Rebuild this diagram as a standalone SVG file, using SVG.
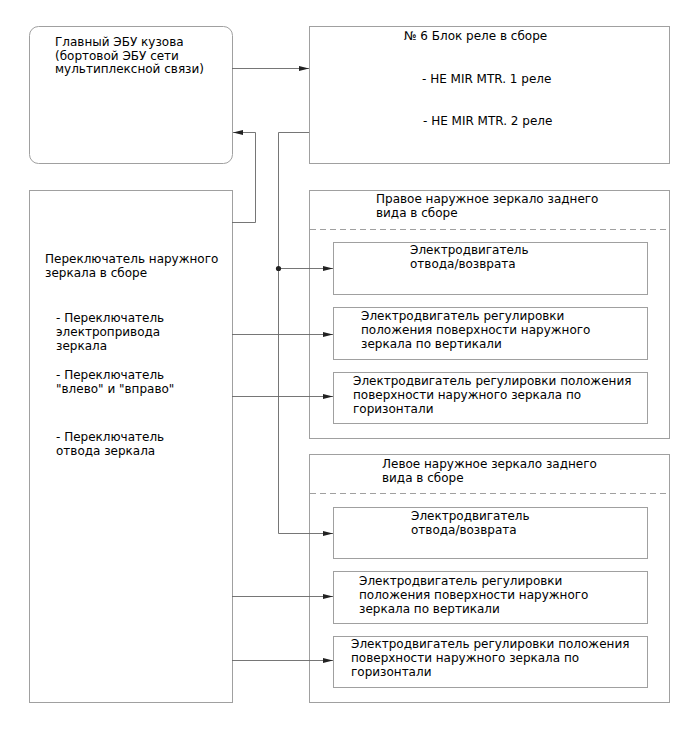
<svg xmlns="http://www.w3.org/2000/svg" width="688" height="755" viewBox="0 0 688 755">
<style>
.box{fill:#fff;stroke:#a0a0a0;stroke-width:1}
.dash{stroke:#a0a0a0;stroke-width:1;stroke-dasharray:6,4;fill:none}
.t{font-family:"DejaVu Sans",sans-serif;font-size:12px;fill:#000}
.c{fill:none;stroke:#666;stroke-width:0.9}
</style>
<defs>
<marker id="ar" viewBox="0 0 10 6" refX="10" refY="3" markerWidth="10" markerHeight="6" markerUnits="userSpaceOnUse" orient="auto">
<path d="M0,0.5 L10,3 L0,5.5 z" fill="#222"/>
</marker>
</defs>
<rect width="688" height="755" fill="#fff"/>
<g id="ecu">
<rect class="box" x="29.5" y="26.5" width="203" height="137" rx="9"/>
<text class="t" x="55" y="46">Главный ЭБУ кузова</text>
<text class="t" x="55" y="59.5">(бортовой ЭБУ сети</text>
<text class="t" x="55" y="73">мультиплексной связи)</text>
</g>
<g id="relay">
<rect class="box" x="309.5" y="26.5" width="360" height="137"/>
<text class="t" x="404" y="40">№ 6 Блок реле в сборе</text>
<text class="t" x="422" y="83">- HE MIR MTR. 1 реле</text>
<text class="t" x="423" y="125">- HE MIR MTR. 2 реле</text>
</g>
<g id="switch">
<rect class="box" x="29.5" y="190.5" width="203" height="512"/>
<text class="t" x="45" y="263">Переключатель наружного</text>
<text class="t" x="45" y="277">зеркала в сборе</text>
<text class="t" x="56" y="322">- Переключатель</text>
<text class="t" x="56" y="336">электропривода</text>
<text class="t" x="56" y="350">зеркала</text>
<text class="t" x="56" y="379">- Переключатель</text>
<text class="t" x="56" y="393">"влево" и "вправо"</text>
<text class="t" x="56" y="441">- Переключатель</text>
<text class="t" x="56" y="455">отвода зеркала</text>
</g>
<g id="right-mirror">
<rect class="box" x="309.5" y="190.5" width="360" height="248"/>
<line class="dash" x1="310" y1="229.5" x2="669" y2="229.5"/>
<text class="t" x="376" y="203">Правое наружное зеркало заднего</text>
<text class="t" x="376" y="217">вида в сборе</text>
</g>
<g id="r-retract">
<rect class="box" x="333.5" y="242.5" width="314" height="52"/>
<text class="t" x="410" y="254">Электродвигатель</text>
<text class="t" x="410" y="268">отвода/возврата</text>
</g>
<g id="r-vert">
<rect class="box" x="333.5" y="307.5" width="314" height="52"/>
<text class="t" x="361" y="320">Электродвигатель регулировки</text>
<text class="t" x="361" y="334">положения поверхности наружного</text>
<text class="t" x="361" y="348">зеркала по вертикали</text>
</g>
<g id="r-horiz">
<rect class="box" x="333.5" y="372.5" width="314" height="51"/>
<text class="t" x="353" y="385">Электродвигатель регулировки положения</text>
<text class="t" x="353" y="399">поверхности наружного зеркала по</text>
<text class="t" x="353" y="413">горизонтали</text>
</g>
<g id="left-mirror">
<rect class="box" x="309.5" y="454.5" width="360" height="248"/>
<line class="dash" x1="310" y1="493.5" x2="669" y2="493.5"/>
<text class="t" x="382" y="468">Левое наружное зеркало заднего</text>
<text class="t" x="382" y="482">вида в сборе</text>
</g>
<g id="l-retract">
<rect class="box" x="333.5" y="507.5" width="314" height="51"/>
<text class="t" x="411" y="520">Электродвигатель</text>
<text class="t" x="411" y="534">отвода/возврата</text>
</g>
<g id="l-vert">
<rect class="box" x="333.5" y="571.5" width="314" height="52"/>
<text class="t" x="359" y="585">Электродвигатель регулировки</text>
<text class="t" x="359" y="599">положения поверхности наружного</text>
<text class="t" x="359" y="613">зеркала по вертикали</text>
</g>
<g id="l-horiz">
<rect class="box" x="333.5" y="636.5" width="314" height="51"/>
<text class="t" x="351" y="648">Электродвигатель регулировки положения</text>
<text class="t" x="351" y="662">поверхности наружного зеркала по</text>
<text class="t" x="351" y="676">горизонтали</text>
</g>
<g id="connectors">
<line class="c" x1="232" y1="68.5" x2="309" y2="68.5" marker-end="url(#ar)"/>
<polyline class="c" points="232,222.5 255.5,222.5 255.5,132.5 233,132.5" marker-end="url(#ar)"/>
<polyline class="c" points="309,132.5 278.5,132.5 278.5,533.5 333,533.5" marker-end="url(#ar)"/>
<line class="c" x1="278.5" y1="268.5" x2="333" y2="268.5" marker-end="url(#ar)"/>
<circle cx="278.5" cy="268.5" r="2.6" fill="#222"/>
<line class="c" x1="232" y1="334.5" x2="333" y2="334.5" marker-end="url(#ar)"/>
<line class="c" x1="232" y1="396.5" x2="333" y2="396.5" marker-end="url(#ar)"/>
<line class="c" x1="232" y1="596.5" x2="333" y2="596.5" marker-end="url(#ar)"/>
<line class="c" x1="232" y1="660.5" x2="333" y2="660.5" marker-end="url(#ar)"/>
</g>
</svg>
